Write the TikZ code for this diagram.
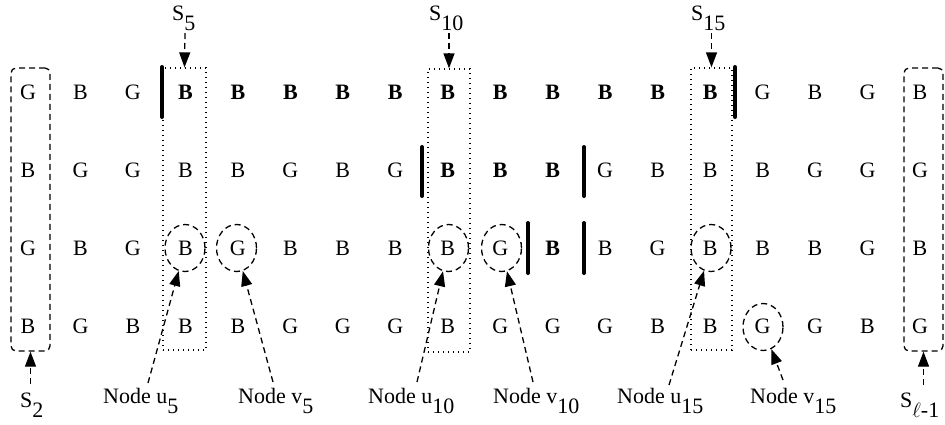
\documentclass[tikz,border=0pt]{standalone}
\usepackage{fontspec}
\setmainfont{Liberation Serif}
\usetikzlibrary{arrows.meta,shapes.geometric}
\newcommand{\lo}[1]{\raisebox{-10pt}{#1}}
\begin{document}
\begin{tikzpicture}[x=1pt,y=-1pt,
  font=\fontsize{22}{26}\selectfont,
  lt/.style={anchor=base,inner sep=0pt},
  bar/.style={line width=4pt,line cap=round},
  dotbox/.style={draw,line width=1.3pt,dash pattern=on 1.3pt off 3.7pt,rectangle,inner sep=0pt},
  dashbox/.style={draw,line width=1.3pt,dash pattern=on 6pt off 4pt,rounded corners=5pt,rectangle,inner sep=0pt},
  circ/.style={draw,ellipse,line width=1.3pt,dash pattern=on 6pt off 4pt,minimum width=40pt,minimum height=47pt,inner sep=0pt},
  arr/.style={line width=1.3pt,dash pattern=on 6pt off 4pt,-{Triangle[length=15pt,width=11pt]}},
  lab/.style={anchor=base west,inner sep=0pt}
]
\useasboundingbox (0,0) rectangle (945,424);
% letters
\foreach \l [count=\c] in {G,B,G,\textbf{B},\textbf{B},\textbf{B},\textbf{B},\textbf{B},\textbf{B},\textbf{B},\textbf{B},\textbf{B},\textbf{B},\textbf{B},G,B,G,B}
  {\pgfmathsetmacro\xx{28+52.47*(\c-1)}\node[lt] (r1c\c) at (\xx,99.3) {\l};}
\foreach \l [count=\c] in {B,G,G,B,B,G,B,G,\textbf{B},\textbf{B},\textbf{B},G,B,B,B,G,G,G}
  {\pgfmathsetmacro\xx{28+52.47*(\c-1)}\node[lt] (r2c\c) at (\xx,177) {\l};}
\foreach \l [count=\c] in {G,B,G,B,G,B,B,B,B,G,\textbf{B},B,G,B,B,B,G,B}
  {\pgfmathsetmacro\xx{28+52.47*(\c-1)}\node[lt] (r3c\c) at (\xx,255) {\l};}
\foreach \l [count=\c] in {B,G,B,B,B,G,G,G,B,G,G,G,B,B,G,G,B,G}
  {\pgfmathsetmacro\xx{28+52.47*(\c-1)}\node[lt] (r4c\c) at (\xx,333) {\l};}
% bars
\draw[bar] (162,67) -- (162,117);
\draw[bar] (735,67) -- (735,117);
\draw[bar] (422,147) -- (422,196);
\draw[bar] (584,147) -- (584,196);
\draw[bar] (528,223) -- (528,273);
\draw[bar] (584,223) -- (584,273);
% boxes
\node[dotbox,minimum width=43pt,minimum height=282pt] (box5) at (184.5,209) {};
\node[dotbox,minimum width=42pt,minimum height=283pt] (box10) at (449,210.5) {};
\node[dotbox,minimum width=41pt,minimum height=282pt] (box15) at (711.5,209) {};
\node[dashbox,minimum width=39pt,minimum height=283pt] (box2) at (30.5,209.5) {};
\node[dashbox,minimum width=39pt,minimum height=283pt] (boxl) at (923.5,209.5) {};
% circles
\node[circ] (cu5) at (185,248) {};
\node[circ] (cv5) at (236.5,248) {};
\node[circ] (cu10) at (448.5,248) {};
\node[circ] (cv10) at (501.5,248) {};
\node[circ] (cu15) at (711,248) {};
\node[circ] (cv15) at (763,327) {};
% top labels
\node[lab] (s5) at (172,20) {S\lo{5}};
\node[lab] (s10) at (429,20) {S\lo{10}};
\node[lab] (s15) at (691,20) {S\lo{15}};
\coordinate (s5a) at (185,33);
\coordinate (s10a) at (449,33);
\coordinate (s15a) at (711.5,33);
\draw[arr] (s5a) -- (box5.north);
\draw[arr] (s10a) -- (box10.north);
\draw[arr] (s15a) -- (box15.north);
% bottom labels
\node[lab] (s2) at (20,407) {S\lo{2}};
\node[lab] (sl) at (900,407) {S\lo{$\ell$-1}};
\node[lab] (nu5) at (103,403) {Node u\lo{5}};
\node[lab] (nv5) at (238,403) {Node v\lo{5}};
\node[lab] (nu10) at (368,403) {Node u\lo{10}};
\node[lab] (nv10) at (493,403) {Node v\lo{10}};
\node[lab] (nu15) at (617,403) {Node u\lo{15}};
\node[lab] (nv15) at (750,403) {Node v\lo{15}};
\coordinate (s2a) at (30.5,384);
\coordinate (sla) at (923.5,385);
\coordinate (nu5a) at (148,383);
\coordinate (nv5a) at (273,382);
\coordinate (nu10a) at (417,382);
\coordinate (nv10a) at (533,382);
\coordinate (nu15a) at (669,385);
\coordinate (nv15a) at (783,380);
\draw[arr] (s2a) -- (box2.south);
\draw[arr] (sla) -- (boxl.south);
\draw[arr] (nu5a) -- (cu5);
\draw[arr] (nv5a) -- (cv5);
\draw[arr] (nu10a) -- (cu10);
\draw[arr] (nv10a) -- (cv10);
\draw[arr] (nu15a) -- (cu15);
\draw[arr] (nv15a) -- (cv15);
\end{tikzpicture}
\end{document}
